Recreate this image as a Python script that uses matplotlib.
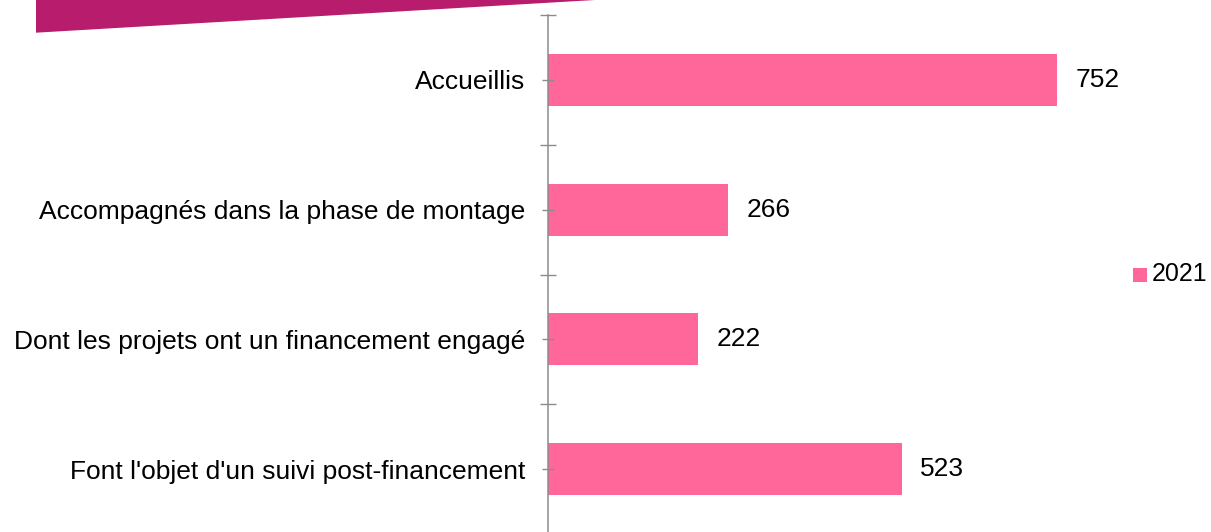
import matplotlib.pyplot as plt
from matplotlib.patches import Polygon, Rectangle

plt.rcParams['font.family'] = ['Liberation Sans', 'DejaVu Sans']

categories = ['Accueillis', 'Accompagnés dans la phase de montage',
              'Dont les projets ont un financement engagé',
              "Font l'objet d'un suivi post-financement"]
values = [752, 266, 222, 523]
series = '2021'

bar_color = '#FF6699'
axis_color = '#8C8C8C'

fig = plt.figure(figsize=(12.11, 5.32), dpi=100)

# decorative banner at the top left
fig.patches.append(Polygon([(36 / 1211, 1), (36 / 1211, 1 - 32.7 / 532), (595 / 1211, 1)],
                           closed=True, transform=fig.transFigure,
                           facecolor='#B81C6C', edgecolor='none'))

ax = fig.add_axes([548 / 1211, -2 / 532, (1090 - 548) / 1211, 519 / 532])
pos = list(range(len(categories)))
ax.barh(pos, values, height=0.4, color=bar_color)
ax.set_ylim(len(categories) - 0.5, -0.5)
ax.set_xlim(0, 800)

for p, v in zip(pos, values):
    ax.annotate(str(v), (v, p), xytext=(13, 0), textcoords='offset points',
                va='center', ha='left', fontsize=19, color='black')

ax.set_yticks(pos)
ax.set_yticklabels(categories, fontsize=19)
ax.set_yticks([p - 0.5 for p in pos] + [len(pos) - 0.5], minor=True)
ax.tick_params(axis='y', which='major', direction='inout', length=8.6,
               width=1, color=axis_color, pad=12)
ax.tick_params(axis='y', which='minor', direction='inout', length=11.5,
               width=1, color=axis_color)
ax.tick_params(axis='x', bottom=False, labelbottom=False)
for s in ['top', 'right', 'bottom']:
    ax.spines[s].set_visible(False)
ax.spines['left'].set_color(axis_color)
ax.spines['left'].set_linewidth(1.1)

# legend
fig.patches.append(Rectangle((1133 / 1211, 1 - 282 / 532), 14 / 1211, 14 / 532,
                             transform=fig.transFigure, facecolor=bar_color, edgecolor='none'))
fig.text(1152 / 1211, 1 - 274 / 532, series, fontsize=18, va='center', ha='left')

fig.savefig('out.png', dpi=100)
